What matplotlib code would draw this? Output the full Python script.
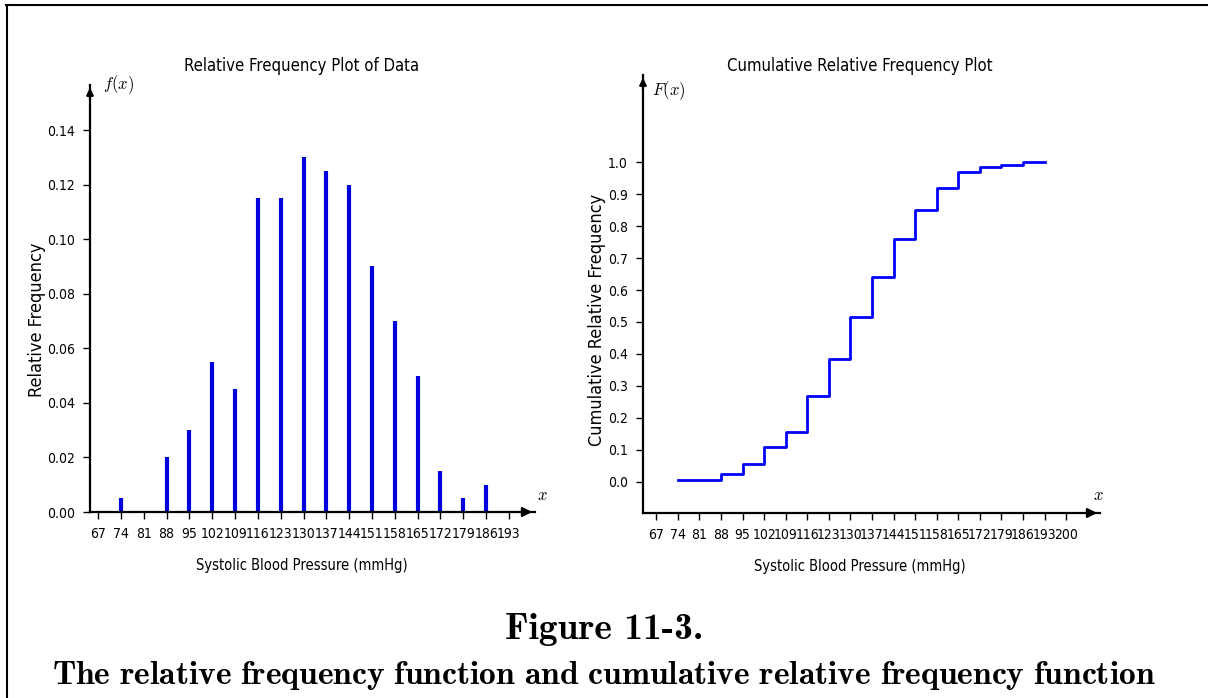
import os
import numpy as np
import matplotlib
matplotlib.use("Agg")
import matplotlib.pyplot as plt
from matplotlib import font_manager
from matplotlib.lines import Line2D

# data
bp_values = [74, 88, 95, 102, 109, 116, 123, 130, 137, 144, 151, 158, 165, 172, 179, 186]
rel_freq = [0.005, 0.02, 0.03, 0.055, 0.045, 0.115, 0.115, 0.13, 0.125, 0.12,
            0.09, 0.07, 0.05, 0.015, 0.005, 0.01]
step_end = 193
left_ticks = list(range(67, 194, 7))
right_ticks = list(range(67, 201, 7))
left_yticks = [0.00, 0.02, 0.04, 0.06, 0.08, 0.10, 0.12, 0.14]
right_yticks = [0.0, 0.1, 0.2, 0.3, 0.4, 0.5, 0.6, 0.7, 0.8, 0.9, 1.0]

cum_freq = np.cumsum(rel_freq)

# narrow sans if there is one
have_narrow = any(f.name == "DejaVu Sans" and f.stretch in ("condensed", 75)
                  for f in font_manager.fontManager.ttflist)
if have_narrow:
    plt.rcParams['font.family'] = ['DejaVu Sans']
    plt.rcParams['font.stretch'] = 'condensed'
    tick_fs = 10
else:
    plt.rcParams['font.family'] = ['Liberation Sans', 'DejaVu Sans']
    tick_fs = 9
plt.rcParams['mathtext.fontset'] = 'cm'

cmb_file = os.path.join(matplotlib.get_data_path(), "fonts", "ttf", "cmb10.ttf")
cmb = font_manager.FontProperties(fname=cmb_file, size=27)

W, H = 1208, 698
fig = plt.figure(figsize=(W / 100, H / 100), dpi=100)


def px_axes(left, right, top, bottom):
    return fig.add_axes([left / W, 1 - bottom / H, (right - left) / W, (bottom - top) / H])


def style_axes(ax):
    for s in ("top", "right"):
        ax.spines[s].set_visible(False)
    for s in ("left", "bottom"):
        ax.spines[s].set_linewidth(1.6)
    ax.tick_params(direction="out", length=5, width=1, labelsize=tick_fs, pad=6)
    # arrow heads
    ax.annotate("", xy=(1.0, 0), xytext=(0.96, 0), xycoords="axes fraction",
                arrowprops=dict(arrowstyle="-|>", color="black", lw=1.6, mutation_scale=14))
    ax.annotate("", xy=(0, 1.0), xytext=(0, 0.96), xycoords="axes fraction",
                arrowprops=dict(arrowstyle="-|>", color="black", lw=1.6, mutation_scale=10))


# left: relative frequency
ax1 = px_axes(90, 535, 85, 512)
ax1.vlines(bp_values, 0, rel_freq, colors="#0000dd", linewidth=3)
ax1.set_xlim(64.5, 201)
ax1.set_ylim(0, 0.1565)
ax1.set_xticks(left_ticks)
ax1.set_yticks(left_yticks)
ax1.set_yticklabels(["%.2f" % v for v in left_yticks])
style_axes(ax1)
ax1.set_ylabel("Relative Frequency", fontsize=13)
ax1.yaxis.set_label_coords(-44 / 445, 0.45)
ax1.set_xlabel("Systolic Blood Pressure (mmHg)", fontsize=10.5)
ax1.xaxis.set_label_coords(0.476, -0.108)
ax1.set_title("Relative Frequency Plot of Data", fontsize=12, pad=10, x=0.476)
ax1.text(0.03, 1.0, r"$f(x)$", transform=ax1.transAxes, fontsize=12, va="center", ha="left")
ax1.text(1.005, 0.04, r"$x$", transform=ax1.transAxes, fontsize=12, va="center", ha="left")

# right: cumulative relative frequency
ax2 = px_axes(643, 1100, 75, 513)
ax2.step(bp_values + [step_end], list(cum_freq) + [cum_freq[-1]], where="post",
         color="#0000ff", linewidth=2)
ax2.set_xlim(62.7, 211)
ax2.set_ylim(-0.097, 1.272)
ax2.set_xticks(right_ticks)
ax2.set_yticks(right_yticks)
ax2.set_yticklabels(["%.1f" % v for v in right_yticks])
style_axes(ax2)
ax2.set_ylabel("Cumulative Relative Frequency", fontsize=13)
ax2.yaxis.set_label_coords(-37 / 457, 0.44)
ax2.set_xlabel("Systolic Blood Pressure (mmHg)", fontsize=10.5)
ax2.xaxis.set_label_coords(0.475, -0.104)
ax2.set_title("Cumulative Relative Frequency Plot", fontsize=12, pad=1, x=0.475)
ax2.text(0.02, 0.965, r"$F(x)$", transform=ax2.transAxes, fontsize=12, va="center", ha="left")
ax2.text(0.985, 0.04, r"$x$", transform=ax2.transAxes, fontsize=12, va="center", ha="left")

# caption
fig.text(0.5, 1 - 630 / H, "Figure 11-3.", fontproperties=cmb, ha="center", va="center")
fig.text(0.5, 1 - 676 / H,
         r"$\mathbf{The\ relative\ frequency\ function\ and\ cumulative\ relative\ frequency\ function}$",
         fontsize=24.2, ha="center", va="center")

# page frame
fig.add_artist(Line2D([6 / W, 1], [1 - 5 / H, 1 - 5 / H], color="black", lw=1.5))
fig.add_artist(Line2D([7 / W, 7 / W], [0, 1 - 5 / H], color="black", lw=1.5))

fig.savefig("out.png", dpi=100)
